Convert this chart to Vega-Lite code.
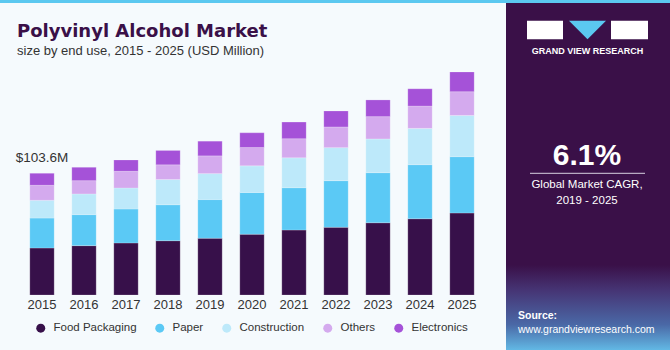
{
  "$schema": "https://vega.github.io/schema/vega-lite/v6.json",
  "padding": 0,
  "background": "#f5fafd",
  "spacing": 0,
  "config": {
    "view": {"stroke": null},
    "font": "Liberation Sans",
    "concat": {"spacing": 0}
  },
  "datasets": {
    "market": [
      {"year": "2015", "seg": "Food Packaging", "ord": 1, "v": 40.0},
      {"year": "2015", "seg": "Paper", "ord": 2, "v": 25.5},
      {"year": "2015", "seg": "Construction", "ord": 3, "v": 15.1},
      {"year": "2015", "seg": "Others", "ord": 4, "v": 12.8},
      {"year": "2015", "seg": "Electronics", "ord": 5, "v": 10.2},
      {"year": "2016", "seg": "Food Packaging", "ord": 1, "v": 42.0},
      {"year": "2016", "seg": "Paper", "ord": 2, "v": 26.4},
      {"year": "2016", "seg": "Construction", "ord": 3, "v": 17.6},
      {"year": "2016", "seg": "Others", "ord": 4, "v": 11.3},
      {"year": "2016", "seg": "Electronics", "ord": 5, "v": 11.4},
      {"year": "2017", "seg": "Food Packaging", "ord": 1, "v": 44.3},
      {"year": "2017", "seg": "Paper", "ord": 2, "v": 28.9},
      {"year": "2017", "seg": "Construction", "ord": 3, "v": 17.9},
      {"year": "2017", "seg": "Others", "ord": 4, "v": 14.2},
      {"year": "2017", "seg": "Electronics", "ord": 5, "v": 9.6},
      {"year": "2018", "seg": "Food Packaging", "ord": 1, "v": 46.2},
      {"year": "2018", "seg": "Paper", "ord": 2, "v": 30.6},
      {"year": "2018", "seg": "Construction", "ord": 3, "v": 21.5},
      {"year": "2018", "seg": "Others", "ord": 4, "v": 12.5},
      {"year": "2018", "seg": "Electronics", "ord": 5, "v": 12.2},
      {"year": "2019", "seg": "Food Packaging", "ord": 1, "v": 48.3},
      {"year": "2019", "seg": "Paper", "ord": 2, "v": 32.9},
      {"year": "2019", "seg": "Construction", "ord": 3, "v": 22.1},
      {"year": "2019", "seg": "Others", "ord": 4, "v": 15.1},
      {"year": "2019", "seg": "Electronics", "ord": 5, "v": 12.5},
      {"year": "2020", "seg": "Food Packaging", "ord": 1, "v": 51.7},
      {"year": "2020", "seg": "Paper", "ord": 2, "v": 35.5},
      {"year": "2020", "seg": "Construction", "ord": 3, "v": 22.7},
      {"year": "2020", "seg": "Others", "ord": 4, "v": 15.6},
      {"year": "2020", "seg": "Electronics", "ord": 5, "v": 12.5},
      {"year": "2021", "seg": "Food Packaging", "ord": 1, "v": 55.3},
      {"year": "2021", "seg": "Paper", "ord": 2, "v": 36.0},
      {"year": "2021", "seg": "Construction", "ord": 3, "v": 25.5},
      {"year": "2021", "seg": "Others", "ord": 4, "v": 16.2},
      {"year": "2021", "seg": "Electronics", "ord": 5, "v": 14.2},
      {"year": "2022", "seg": "Food Packaging", "ord": 1, "v": 57.6},
      {"year": "2022", "seg": "Paper", "ord": 2, "v": 39.7},
      {"year": "2022", "seg": "Construction", "ord": 3, "v": 28.1},
      {"year": "2022", "seg": "Others", "ord": 4, "v": 17.6},
      {"year": "2022", "seg": "Electronics", "ord": 5, "v": 13.6},
      {"year": "2023", "seg": "Food Packaging", "ord": 1, "v": 61.5},
      {"year": "2023", "seg": "Paper", "ord": 2, "v": 42.6},
      {"year": "2023", "seg": "Construction", "ord": 3, "v": 28.7},
      {"year": "2023", "seg": "Others", "ord": 4, "v": 19.0},
      {"year": "2023", "seg": "Electronics", "ord": 5, "v": 14.2},
      {"year": "2024", "seg": "Food Packaging", "ord": 1, "v": 64.9},
      {"year": "2024", "seg": "Paper", "ord": 2, "v": 46.0},
      {"year": "2024", "seg": "Construction", "ord": 3, "v": 30.9},
      {"year": "2024", "seg": "Others", "ord": 4, "v": 19.0},
      {"year": "2024", "seg": "Electronics", "ord": 5, "v": 14.7},
      {"year": "2025", "seg": "Food Packaging", "ord": 1, "v": 69.8},
      {"year": "2025", "seg": "Paper", "ord": 2, "v": 47.9},
      {"year": "2025", "seg": "Construction", "ord": 3, "v": 35.1},
      {"year": "2025", "seg": "Others", "ord": 4, "v": 20.2},
      {"year": "2025", "seg": "Electronics", "ord": 5, "v": 16.8}
    ]
  },
  "vconcat": [
    {
      "width": 670,
      "height": 3,
      "data": {"values": [{"a": 1}]},
      "mark": {"type": "rect", "color": "#5bc8f0"},
      "encoding": {},
      "view": {"fill": "#5bc8f0", "stroke": null}
    },
    {
      "hconcat": [
        {
          "width": 504,
          "height": 292,
          "title": {
            "text": "Polyvinyl Alcohol Market",
            "subtitle": "size by end use, 2015 - 2025 (USD Million)",
            "anchor": "start",
            "orient": "top",
            "offset": -55,
            "dx": 17,
            "font": "DejaVu Sans",
            "fontSize": 18,
            "fontWeight": "bold",
            "color": "#3a1048",
            "subtitleFont": "Liberation Sans",
            "subtitleFontSize": 13,
            "subtitleColor": "#333333",
            "subtitlePadding": 4
          },
          "layer": [
            {
              "data": {"name": "market"},
              "mark": {"type": "bar", "stroke": "#ffffff", "strokeWidth": 0.5, "strokeOpacity": 0.4},
              "encoding": {
                "x": {
                  "field": "year", "type": "nominal",
                  "scale": {"paddingInner": 0.42, "paddingOuter": 0.71},
                  "axis": {"title": null, "labelAngle": 0, "domain": false, "ticks": false, "labelPadding": 3, "labelFontSize": 13, "labelColor": "#333333", "labelFont": "Liberation Sans"}
                },
                "y": {
                  "field": "v", "type": "quantitative", "stack": "zero",
                  "scale": {"domain": [0, 248.5], "nice": false},
                  "axis": null
                },
                "color": {
                  "field": "seg", "type": "nominal",
                  "scale": {
                    "domain": ["Food Packaging", "Paper", "Construction", "Others", "Electronics"],
                    "range": ["#37104a", "#5bc9f5", "#bde9fa", "#d4aaee", "#a552d8"]
                  },
                  "legend": {
                    "title": null,
                    "orient": "none",
                    "direction": "horizontal",
                    "legendX": 35,
                    "legendY": 322,
                    "symbolType": "circle",
                    "symbolSize": 81,
                    "symbolStrokeWidth": 0,
                    "labelFontSize": 11.5,
                    "labelColor": "#333333",
                    "labelOffset": 7,
                    "columnPadding": 17
                  }
                },
                "order": {"field": "ord", "type": "quantitative"}
              }
            },
            {
              "data": {"values": [{"year": "2015", "total": 103.6, "label": "$103.6M"}]},
              "mark": {"type": "text", "baseline": "alphabetic", "dy": -11, "fontSize": 13.5, "color": "#333333"},
              "encoding": {
                "x": {"field": "year", "type": "nominal"},
                "y": {"field": "total", "type": "quantitative"},
                "text": {"field": "label"}
              }
            }
          ]
        },
        {
          "width": 164,
          "height": 347,
          "view": {"fill": "#3a1048", "stroke": null},
          "encoding": {
            "x": {"field": "x", "type": "quantitative", "scale": {"domain": [0, 164], "nice": false, "zero": false}, "axis": null},
            "y": {"field": "y", "type": "quantitative", "scale": {"domain": [0, 347], "nice": false, "zero": false, "reverse": true}, "axis": null}
          },
          "layer": [
            {
              "data": {"values": [{"x": 0, "x2": 164, "y": 262, "y2": 347}]},
              "mark": {
                "type": "rect",
                "color": {
                  "gradient": "linear", "x1": 0, "y1": 0, "x2": 0, "y2": 1,
                  "stops": [
                    {"offset": 0, "color": "#3a1048"},
                    {"offset": 0.3, "color": "#463575"},
                    {"offset": 0.7, "color": "#4a68a6"},
                    {"offset": 1, "color": "#62b8e4"}
                  ]
                }
              },
              "encoding": {"x2": {"field": "x2"}, "y2": {"field": "y2"}}
            },
            {
              "data": {"values": [{"x": 21, "x2": 57, "y": 17.7, "y2": 36.3}, {"x": 105, "x2": 142, "y": 17.7, "y2": 36.3}]},
              "mark": {"type": "rect", "color": "#ffffff"},
              "encoding": {"x2": {"field": "x2"}, "y2": {"field": "y2"}}
            },
            {
              "data": {"values": [{"x": 81.5, "y": 27}]},
              "mark": {"type": "point", "filled": true, "color": "#5bc8f0", "opacity": 1, "shape": "M-1,-0.5L1,-0.5L0,0.5Z", "size": 1369},
              "encoding": {}
            },
            {
              "data": {"values": [{"x": 24, "x2": 139, "y": 170.3}]},
              "mark": {"type": "rule", "color": "#d8d0e0", "strokeWidth": 1},
              "encoding": {"x2": {"field": "x2"}}
            },
            {
              "data": {"values": [{"x": 81.5, "y": 47.7, "t": "GRAND VIEW RESEARCH"}]},
              "mark": {"type": "text", "fontSize": 9, "fontWeight": "bold", "color": "#ffffff", "baseline": "middle", "align": "center", "letterSpacing": 0.9},
              "encoding": {"text": {"field": "t"}}
            },
            {
              "data": {"values": [{"x": 81, "y": 153, "t": "6.1%"}]},
              "mark": {"type": "text", "fontSize": 30, "fontWeight": "bold", "color": "#ffffff", "baseline": "middle", "align": "center"},
              "encoding": {"text": {"field": "t"}}
            },
            {
              "data": {"values": [{"x": 81, "y": 182, "t": "Global Market CAGR,"}, {"x": 81, "y": 198, "t": "2019 - 2025"}]},
              "mark": {"type": "text", "fontSize": 11.5, "color": "#ffffff", "baseline": "middle", "align": "center"},
              "encoding": {"text": {"field": "t"}}
            },
            {
              "data": {"values": [{"x": 12, "y": 312.7, "t": "Source:"}]},
              "mark": {"type": "text", "fontSize": 10.5, "fontWeight": "bold", "color": "#ffffff", "baseline": "middle", "align": "left"},
              "encoding": {"text": {"field": "t"}}
            },
            {
              "data": {"values": [{"x": 12, "y": 327, "t": "www.grandviewresearch.com"}]},
              "mark": {"type": "text", "fontSize": 10.5, "color": "#ffffff", "baseline": "middle", "align": "left"},
              "encoding": {"text": {"field": "t"}}
            }
          ]
        }
      ],
      "spacing": 2
    }
  ]
}
